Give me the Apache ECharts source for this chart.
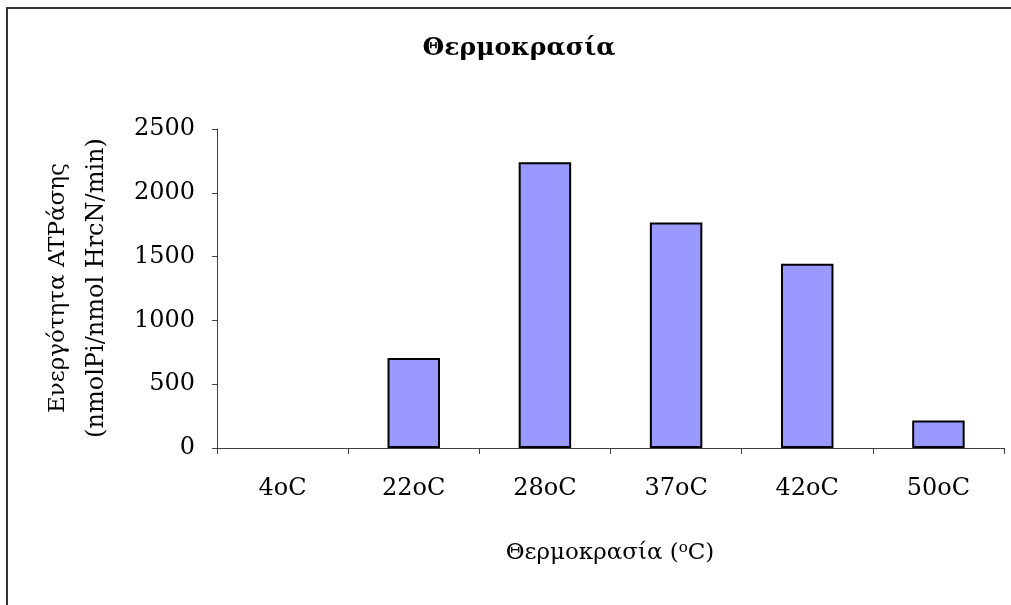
<!DOCTYPE html>
<html>
<head>
<meta charset="utf-8">
<script src="https://cdn.jsdelivr.net/npm/echarts@6/dist/echarts.min.js"></script>
<style>
html,body{margin:0;padding:0;background:#fff;}
#chart{width:1011px;height:605px;}
</style>
</head>
<body>
<div id="chart"></div>
<script>
const categories = ['4oC', '22oC', '28oC', '37oC', '42oC', '50oC'];
const activity = [0, 705, 2240, 1767, 1443, 216];
const titleText = 'Θερμοκρασία';
const yTitleLine1 = 'Ενεργότητα ATPάσης';
const yTitleLine2 = '(nmolPi/nmol HrcN/min)';
const xTitleMain = 'Θερμοκρασία (';
const xTitleSup = 'o';
const xTitleEnd = 'C)';

const FONT = '"DejaVu Serif", serif';
const chart = echarts.init(document.getElementById('chart'), null, {renderer: 'canvas'});
chart.setOption({
  animation: false,
  backgroundColor: '#ffffff',
  title: {
    text: titleText,
    left: 514, top: 31, textAlign: 'center',
    textStyle: {fontFamily: FONT, fontWeight: 'bold', fontSize: 25, color: '#000'}
  },
  grid: {left: 217, right: 7, top: 129, bottom: 157, containLabel: false},
  xAxis: {
    type: 'category',
    data: categories,
    axisLine: {lineStyle: {color: '#404040', width: 1}},
    axisTick: {show: true, length: 6, lineStyle: {color: '#404040'}},
    axisLabel: {margin: 29, fontFamily: FONT, fontSize: 24, color: '#000'}
  },
  yAxis: {
    type: 'value',
    min: 0, max: 2500, interval: 500,
    splitLine: {show: false},
    axisLine: {show: true, lineStyle: {color: '#404040', width: 1}},
    axisTick: {show: true, length: 5, lineStyle: {color: '#404040'}},
    axisLabel: {margin: 22, fontFamily: FONT, fontSize: 24, color: '#000', formatter: function (v) { return String(v); }}
  },
  graphic: [
    {type: 'rect', shape: {x: 7, y: 8, width: 1200, height: 800}, style: {fill: 'none', stroke: '#333', lineWidth: 2}, silent: true},
    {type: 'text', x: 58, y: 288, rotation: Math.PI / 2,
      style: {text: yTitleLine1, font: '23px ' + FONT, fill: '#000', textAlign: 'center', textVerticalAlign: 'middle'}},
    {type: 'text', x: 97, y: 288, rotation: Math.PI / 2,
      style: {text: yTitleLine2, font: '24px ' + FONT, fill: '#000', textAlign: 'center', textVerticalAlign: 'middle'}},
    {type: 'text', x: 610, y: 553,
      style: {
        text: '{m|' + xTitleMain + '}{s|' + xTitleSup + '}{m|' + xTitleEnd + '}',
        textAlign: 'center', textVerticalAlign: 'middle',
        rich: {
          m: {fontFamily: FONT, fontSize: 23, fill: '#000'},
          s: {fontFamily: FONT, fontSize: 15, fill: '#000', verticalAlign: 'top', padding: [0, 0, 9, 0]}
        }
      }}
  ],
  series: [{
    type: 'bar',
    data: activity.map(function (v) { return v > 0 ? v : {value: v, itemStyle: {borderWidth: 0}}; }),
    barWidth: '40%',
    itemStyle: {color: '#9999FF', borderColor: '#000', borderWidth: 2}
  }]
});
</script>
</body>
</html>
